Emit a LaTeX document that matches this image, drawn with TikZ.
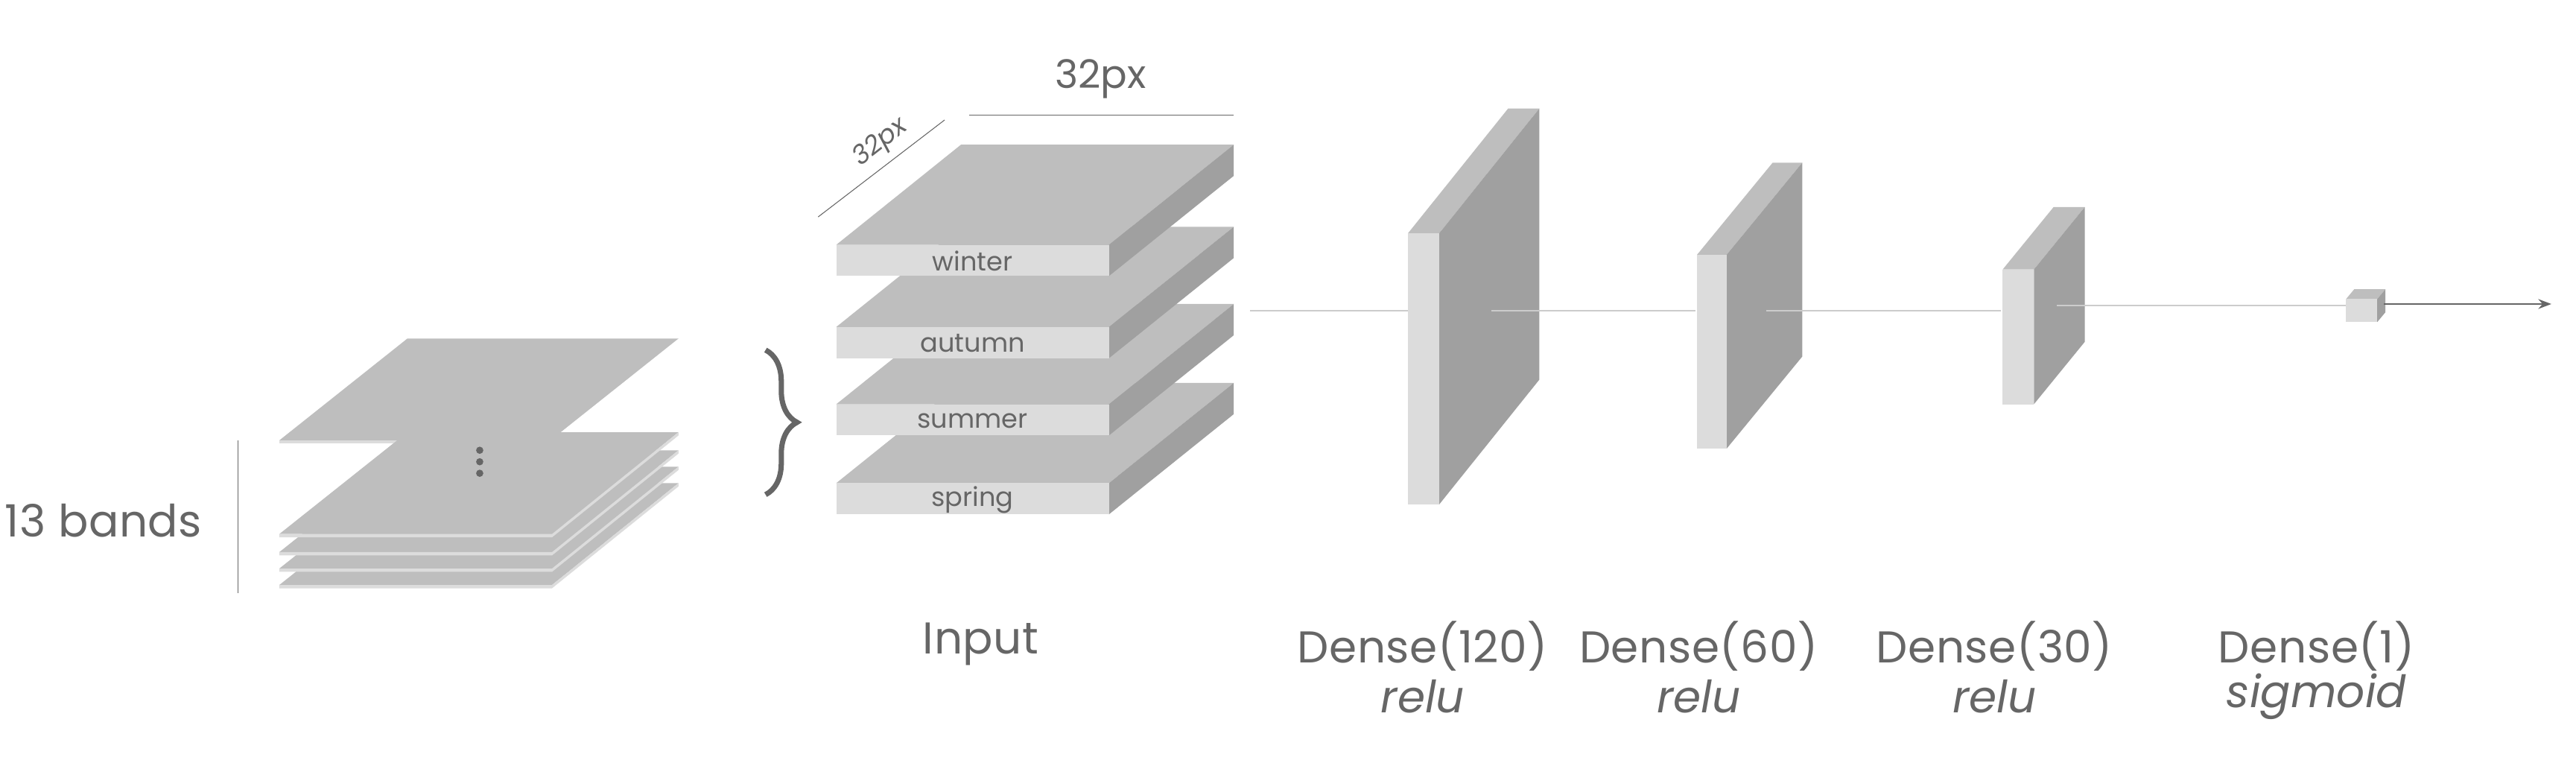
\documentclass[tikz,border=0pt]{standalone}
\usepackage{fontspec}
\setmainfont{Poppins}
\usetikzlibrary{decorations.pathreplacing,arrows.meta}
\definecolor{tg}{HTML}{666666}
\definecolor{topc}{HTML}{BEBEBE}
\definecolor{frontc}{HTML}{DCDCDC}
\definecolor{sidec}{HTML}{A0A0A0}
\definecolor{linec}{HTML}{CCCCCC}
\tikzset{
 lbl/.style={text=tg,font=\fontsize{17}{20}\selectfont\addfontfeature{LetterSpace=1},inner sep=0pt},
 slbl/.style={text=tg,font=\fontsize{10}{12}\selectfont,inner sep=0pt},
 conn/.style={draw=linec,line width=0.5pt},
}
\begin{document}
\begin{tikzpicture}[x=0.022054cm,y=-0.022054cm]
\useasboundingbox (0,0) rectangle (1568,466);
% left stack
\fill[topc] (248,206)--(413,206)--(335,268)--(170,268)--cycle;
\fill[frontc] (170,268)--(335,268)--(335,270)--(170,270)--cycle;
\foreach \f in {356,346,336,325}{
 \fill[topc] (248,\f-62)--(413,\f-62)--(336,\f)--(170,\f)--cycle;
 \fill[frontc] (170,\f)--(336,\f)--(413,\f-62)--(413,\f-60)--(336,\f+2)--(170,\f+2)--cycle;
}
\foreach \yy in {274,281,288}{\fill[tg] (292,\yy) circle (2.2);}
\node[lbl] (bands) at (63,317) {13 bands};
\draw[tg,line width=0.4pt] (145,268)--(145,361);
\coordinate (brA) at (466,301);
\coordinate (brB) at (466,213);
\draw[tg,line width=2pt,decorate,decoration={brace,amplitude=12pt}] (brB)--(brA);
% input slabs
\foreach \t/\name in {294/spring,246/summer,199/autumn,149/winter}{
 \fill[topc] (509,\t)--(675,\t)--(751,\t-61)--(585,\t-61)--cycle;
 \fill[sidec] (675,\t)--(751,\t-61)--(751,\t-42)--(675,\t+19)--cycle;
 \fill[frontc] (509,\t) rectangle (675,\t+19);
 \node[slbl] (\name) at (592,\t+10) {\name};
}
\draw[tg,line width=0.4pt] (590,70)--(751,70);
\node[text=tg,font=\fontsize{15}{18}\selectfont,inner sep=0pt] (w32) at (670,48) {32px};
\draw[tg,line width=0.3pt] (498,132)--(575,73);
\node[text=tg,font=\fontsize{10}{12}\selectfont\itshape,rotate=38,inner sep=0pt] (d32) at (536,87) {32px};
\node[lbl] (input) at (597,392) {Input};
% connectors
\coordinate (c0) at (761,189);
\coordinate (c1) at (857,189);
\coordinate (c2) at (908,189);
\coordinate (c3) at (1032,189);
\coordinate (c4) at (1075,189);
\coordinate (c5) at (1218,189);
\coordinate (c6) at (1252,186);
\coordinate (c7) at (1428,186);
\coordinate (c8) at (1451,185);
\coordinate (c9) at (1553,185);
\draw[conn] (c0)--(c1);
% dense layers: frontx, width, top y, bottom y, dx, dy
\foreach \x/\w/\ta/\bb/\dx/\dy in {857/19/142/307/61/76, 1033/18/155/273/46/56, 1219/19/164/246/31/38, 1428/19/182/196/5/6}{
 \fill[topc] (\x,\ta)--(\x+\w,\ta)--(\x+\w+\dx,\ta-\dy)--(\x+\dx,\ta-\dy)--cycle;
 \fill[sidec] (\x+\w,\ta)--(\x+\w+\dx,\ta-\dy)--(\x+\w+\dx,\bb-\dy)--(\x+\w,\bb)--cycle;
 \fill[frontc] (\x,\ta) rectangle (\x+\w,\bb);
}
\draw[conn] (c2)--(c3);
\draw[conn] (c4)--(c5);
\draw[conn] (c6)--(c7);
\draw[tg,line width=0.6pt,-{Stealth[length=5pt]}] (c8)--(c9);
\node[lbl] (d120) at (866,393) {Dense(120)};
\node[lbl,font=\fontsize{17}{20}\selectfont\itshape] (r120) at (866,424) {relu};
\node[lbl] (d60) at (1034,393) {Dense(60)};
\node[lbl,font=\fontsize{17}{20}\selectfont\itshape] (r60) at (1034,424) {relu};
\node[lbl] (d30) at (1214,393) {Dense(30)};
\node[lbl,font=\fontsize{17}{20}\selectfont\itshape] (r30) at (1214,424) {relu};
\node[lbl] (d1) at (1410,393) {Dense(1)};
\node[lbl,font=\fontsize{17}{20}\selectfont\itshape] (s1) at (1410,424) {sigmoid};
\end{tikzpicture}
\end{document}
